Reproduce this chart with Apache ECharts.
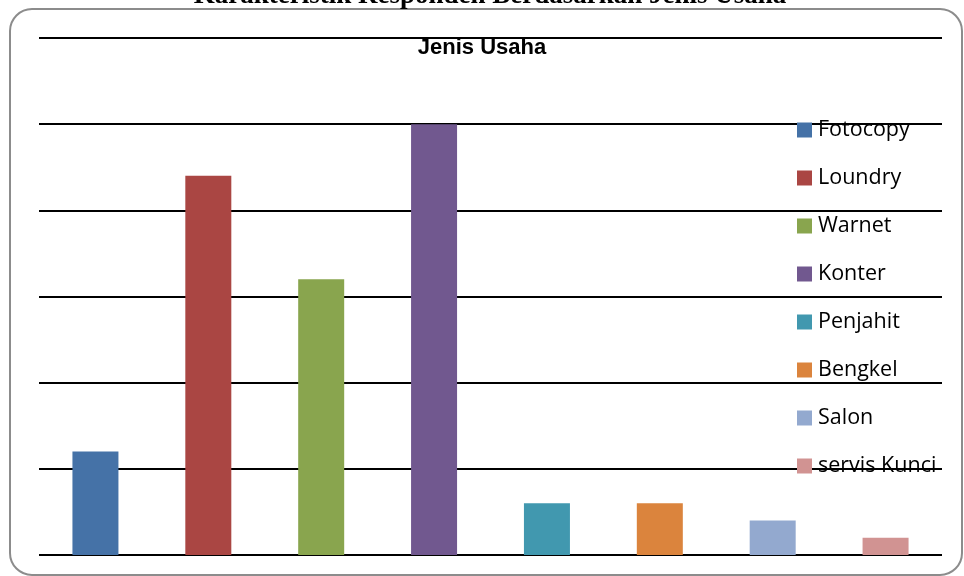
<!DOCTYPE html>
<html><head><meta charset="utf-8">
<script src="https://cdn.jsdelivr.net/npm/echarts@6/dist/echarts.min.js"></script>
<style>html,body{margin:0;padding:0;background:#fff}#c{width:964px;height:576px}</style>
</head><body><div id="c"></div>
<script>
var categories = ['Fotocopy','Loundry','Warnet','Konter','Penjahit','Bengkel','Salon','servis Kunci'];
var values = [6, 22, 16, 25, 3, 3, 2, 1];
var colors = ['#4572A7','#AA4643','#89A54E','#71588F','#4198AF','#DB843D','#93A9CF','#D19392'];
var yTicks = {min: 0, max: 30, interval: 5};

var series = categories.map(function(name, i){
  var d = categories.map(function(c, j){ return j === i ? values[i] : null; });
  return {
    name: name, type: 'bar', stack: 'all', data: d, barWidth: 46,
    itemStyle: {color: colors[i]}, z: 3
  };
});

var chart = echarts.init(document.getElementById('c'), null, {renderer: 'canvas'});
chart.setOption({
  animation: false,
  backgroundColor: '#fff',
  grid: {left: 39, right: 22, top: 38, bottom: 21, containLabel: false},
  xAxis: {type: 'category', data: categories, axisLine: {show: false}, axisTick: {show: false}, axisLabel: {show: false}},
  yAxis: {type: 'value', min: yTicks.min, max: yTicks.max, interval: yTicks.interval,
    axisLabel: {show: false}, axisLine: {show: false}, axisTick: {show: false},
    splitLine: {lineStyle: {color: '#000', width: 2}}},
  legend: {
    orient: 'vertical', left: 797, top: 118, padding: 0,
    itemWidth: 15, itemHeight: 15, itemGap: 24,
    icon: 'rect',
    textStyle: {fontFamily: 'Open Sans', fontSize: 21.5, color: '#000', lineHeight: 24, padding: [0,0,0,1]},
    data: categories
  },
  title: {
    text: 'Jenis Usaha', left: 'center', top: 37, padding: 0,
    textStyle: {fontFamily: 'Liberation Sans Narrow, Liberation Sans', fontWeight: 'bold', fontSize: 22, color: '#000'}
  },
  graphic: [
    {type: 'rect', shape: {x: 10, y: 9, width: 952, height: 566, r: 22}, style: {fill: null, stroke: '#8c8c8c', lineWidth: 2}, z: -1, silent: true},
    {type: 'text', x: 490, y: 10, style: {text: 'Karakteristik Responden Berdasarkan Jenis Usaha', fontFamily: 'Liberation Serif', fontWeight: 'bold', fontSize: 27, fill: '#000', align: 'center', verticalAlign: 'bottom'}, z: 10}
  ],
  series: series
});
</script>
</body></html>
